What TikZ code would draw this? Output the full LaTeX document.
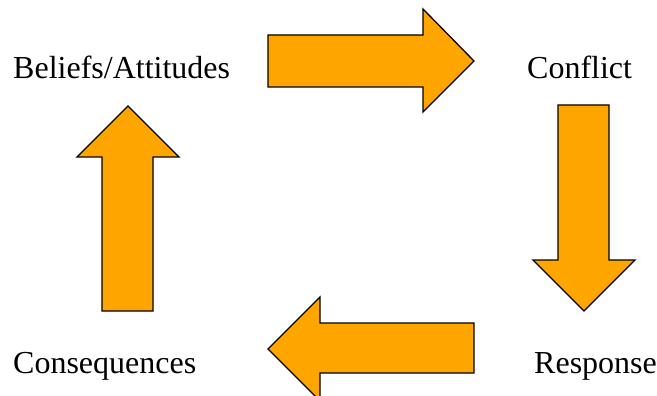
\documentclass[tikz,border=0pt]{standalone}
\usepackage{fontspec}
\setmainfont{Liberation Serif}
\usepackage{xcolor}
\definecolor{arrowfill}{HTML}{FFA500}

\begin{document}
\begin{tikzpicture}[x=1pt,y=-1pt,
	label/.style={inner sep=0pt,anchor=base west,font=\fontsize{32}{38}\selectfont},
	blockarrow/.style={draw=black,fill=arrowfill,line width=1.3pt,line join=miter}]
		\useasboundingbox (0,0) rectangle (657,396);
		%
		\node [label] (beliefs) at (13,79) {Beliefs/Attitudes};
		\node [label] (conflict) at (527,79) {Conflict};
		\node [label] (response) at (534,373) {Response};
		\node [label] (conseq) at (13,373) {Consequences};
		%
		\draw [blockarrow] (268,35) -- (423,35) -- (423,9) -- (474,61) -- (423,112) -- (423,87) -- (268,87) -- cycle;
		\draw [blockarrow] (558,105) -- (609,105) -- (609,260) -- (635,260) -- (584,311) -- (533,260) -- (558,260) -- cycle;
		\draw [blockarrow] (474,323) -- (320,323) -- (320,297) -- (268,349) -- (320,401) -- (320,373) -- (474,373) -- cycle;
		\draw [blockarrow] (102,311) -- (102,157) -- (77,157) -- (128,106) -- (179,157) -- (153,157) -- (153,311) -- cycle;
	\end{tikzpicture}
\end{document}
